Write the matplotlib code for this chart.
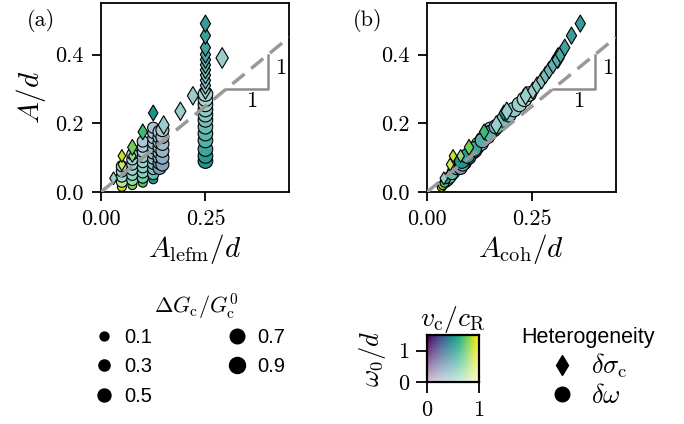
import numpy as np
import matplotlib
matplotlib.use('Agg')
import matplotlib.pyplot as plt
from matplotlib.lines import Line2D

plt.rcParams.update({
    'font.family': 'serif', 'font.serif': ['cmr10'], 'mathtext.fontset': 'cm',
    'axes.formatter.use_mathtext': True, 'font.size': 14,
    'axes.linewidth': 1.3,
    'xtick.major.width': 1.3, 'ytick.major.width': 1.3,
    'xtick.major.size': 6.5, 'ytick.major.size': 6.5,
    'xtick.major.pad': 6, 'ytick.major.pad': 6,
    'xtick.direction': 'out', 'ytick.direction': 'out',
    'xtick.labelsize': 16, 'ytick.labelsize': 16,
})

# ---------------- data: delta omega heterogeneity (circles) ----------------
circ_lefm = [0.05, 0.05, 0.05, 0.05, 0.05,
             0.075, 0.075, 0.075, 0.075, 0.075, 0.075, 0.075,
             0.10, 0.10, 0.10, 0.10, 0.10, 0.10, 0.10, 0.10, 0.10,
             0.125, 0.125, 0.125, 0.125, 0.125, 0.125, 0.125, 0.125, 0.125, 0.125, 0.125,
             0.14, 0.14, 0.14, 0.14, 0.14, 0.14, 0.14, 0.14,
             0.147, 0.147, 0.147, 0.147, 0.147, 0.147,
             0.25, 0.25, 0.25, 0.25, 0.25, 0.25, 0.25, 0.25, 0.25, 0.25, 0.25, 0.25]
circ_coh = [0.035, 0.045, 0.055, 0.062, 0.070,
            0.038, 0.050, 0.060, 0.070, 0.080, 0.090, 0.100,
            0.042, 0.055, 0.065, 0.075, 0.085, 0.095, 0.105, 0.115, 0.125,
            0.045, 0.060, 0.070, 0.080, 0.090, 0.100, 0.110, 0.120, 0.130, 0.140, 0.150,
            0.080, 0.090, 0.100, 0.110, 0.120, 0.130, 0.140, 0.150,
            0.085, 0.100, 0.115, 0.130, 0.145, 0.160,
            0.083, 0.096, 0.112, 0.132, 0.148, 0.165, 0.182, 0.195, 0.207, 0.220, 0.232, 0.243]
circ_A = [0.015, 0.030, 0.045, 0.060, 0.075,
          0.020, 0.035, 0.050, 0.065, 0.080, 0.095, 0.110,
          0.027, 0.042, 0.057, 0.072, 0.087, 0.102, 0.117, 0.132, 0.147,
          0.037, 0.052, 0.067, 0.082, 0.097, 0.112, 0.127, 0.142, 0.157, 0.172, 0.187,
          0.070, 0.085, 0.100, 0.115, 0.130, 0.145, 0.160, 0.175,
          0.080, 0.100, 0.120, 0.140, 0.160, 0.180,
          0.090, 0.105, 0.125, 0.150, 0.170, 0.190, 0.210, 0.225, 0.240, 0.255, 0.270, 0.285]
circ_dG = [0.1, 0.3, 0.3, 0.3, 0.3,
           0.1, 0.3, 0.3, 0.3, 0.3, 0.3, 0.3,
           0.1, 0.3, 0.3, 0.3, 0.3, 0.3, 0.3, 0.3, 0.3,
           0.1, 0.3, 0.3, 0.3, 0.3, 0.3, 0.3, 0.3, 0.3, 0.3, 0.3,
           0.5, 0.5, 0.5, 0.5, 0.5, 0.5, 0.5, 0.5,
           0.5, 0.5, 0.5, 0.5, 0.5, 0.5,
           0.7, 0.7, 0.7, 0.7, 0.7, 0.7, 0.7, 0.7, 0.7, 0.7, 0.7, 0.7]
circ_v = [0.92, 0.80, 0.60, 0.50, 0.40,
          0.80, 0.70, 0.60, 0.55, 0.50, 0.45, 0.40,
          0.72, 0.65, 0.60, 0.55, 0.50, 0.45, 0.42, 0.40, 0.38,
          0.55, 0.55, 0.50, 0.48, 0.45, 0.42, 0.40, 0.40, 0.38, 0.36, 0.35,
          0.35, 0.35, 0.35, 0.35, 0.35, 0.35, 0.35, 0.35,
          0.33, 0.33, 0.33, 0.33, 0.33, 0.33,
          0.52, 0.52, 0.52, 0.52, 0.52, 0.52, 0.52, 0.52, 0.52, 0.52, 0.52, 0.52]
circ_w = [1.5, 0.6, 0.4, 0.3, 0.3,
          1.5, 0.7, 0.5, 0.4, 0.4, 0.3, 0.3,
          1.5, 0.8, 0.6, 0.5, 0.4, 0.4, 0.3, 0.3, 0.3,
          1.5, 0.9, 0.7, 0.6, 0.5, 0.5, 0.4, 0.4, 0.3, 0.3, 0.3,
          0.8, 0.7, 0.6, 0.5, 0.5, 0.4, 0.4, 0.3,
          0.7, 0.6, 0.5, 0.4, 0.4, 0.3,
          1.5, 1.4, 1.2, 1.0, 0.9, 0.8, 0.7, 0.6, 0.5, 0.4, 0.3, 0.3]

# ---------------- data: delta sigma_c heterogeneity (diamonds) ----------------
dia_lefm = [0.05, 0.075, 0.05, 0.075, 0.10, 0.125,
            0.03, 0.15, 0.19, 0.22, 0.29,
            0.25, 0.25, 0.25, 0.25, 0.25, 0.25, 0.25, 0.25, 0.25, 0.25, 0.25]
dia_coh = [0.055, 0.080, 0.062, 0.100, 0.136, 0.183,
           0.040, 0.165, 0.190, 0.235, 0.312,
           0.252, 0.262, 0.273, 0.282, 0.291, 0.300, 0.310, 0.318, 0.328, 0.344, 0.365]
dia_A = [0.080, 0.105, 0.105, 0.130, 0.175, 0.230,
         0.040, 0.195, 0.235, 0.280, 0.390,
         0.295, 0.310, 0.325, 0.340, 0.355, 0.370, 0.385, 0.400, 0.420, 0.455, 0.490]
dia_dG = [0.1, 0.1, 0.1, 0.3, 0.3, 0.3,
          0.1, 0.5, 0.5, 0.5, 0.7,
          0.4, 0.4, 0.4, 0.4, 0.4, 0.4, 0.4, 0.4, 0.4, 0.4, 0.4]
dia_v = [0.90, 0.78, 0.92, 0.78, 0.68, 0.50,
         0.50, 0.50, 0.50, 0.50, 0.50,
         0.50, 0.50, 0.50, 0.50, 0.50, 0.50, 0.50, 0.50, 0.50, 0.50, 0.50]
dia_w = [1.0, 1.0, 1.5, 1.5, 1.5, 1.5,
         0.4, 0.4, 0.4, 0.4, 0.4,
         0.4, 0.5, 0.6, 0.7, 0.8, 0.9, 1.0, 1.1, 1.2, 1.25, 1.3]

legend_dG = [0.1, 0.3, 0.5, 0.7, 0.9]
xlim_max, ylim_max = 0.45, 0.55

viridis = plt.get_cmap('viridis')


def color2d(v, w):
    a = 0.25 + 0.75 * min(w / 1.5, 1.0)
    c = np.array(viridis(v)[:3])
    return tuple(a * c + (1 - a))


def size_of(dg):
    return 30 + 115 * dg


fig = plt.figure(figsize=(6.84, 4.24), dpi=100)
W, H = 684, 424
ax_a = fig.add_axes([101 / W, 1 - 192 / H, 188 / W, 189 / H])
ax_b = fig.add_axes([427 / W, 1 - 192 / H, 189 / W, 189 / H])

circ_col = [color2d(v, w) for v, w in zip(circ_v, circ_w)]
dia_col = [color2d(v, w) for v, w in zip(dia_v, dia_w)]
circ_s = [size_of(d) for d in circ_dG]
dia_s = [size_of(d) for d in dia_dG]

for ax, cx, dx, xl in [(ax_a, circ_lefm, dia_lefm, r'$A_\mathrm{lefm}/d$'),
                       (ax_b, circ_coh, dia_coh, r'$A_\mathrm{coh}/d$')]:
    ax.scatter(cx, circ_A, s=circ_s, c=circ_col, marker='o', edgecolors='k',
               linewidths=0.8, zorder=2)
    ax.scatter(dx, dia_A, s=dia_s, c=dia_col, marker='d', edgecolors='k',
               linewidths=0.8, zorder=2)
    ax.plot([0, xlim_max], [0, xlim_max], color='#999999', lw=2.5,
            dashes=(4.5, 2.5), zorder=3)
    ax.plot([0.3, 0.4, 0.4], [0.3, 0.3, 0.4], color='#8c8c8c', lw=1.8, zorder=3)
    ax.text(0.36, 0.265, '1', ha='center', va='center', fontsize=16)
    ax.text(0.43, 0.36, '1', ha='center', va='center', fontsize=16)
    ax.set_xlim(0, xlim_max)
    ax.set_ylim(0, ylim_max)
    ax.set_xticks([0.0, 0.25])
    ax.set_xticklabels(['0.00', '0.25'])
    ax.set_yticks([0.0, 0.2, 0.4])
    ax.set_yticklabels(['0.0', '0.2', '0.4'])
    ax.set_xlabel(xl, fontsize=21, labelpad=2)

ax_a.set_ylabel(r'$A/d$', fontsize=21, labelpad=5)
fig.text(41 / W, 1 - 20 / H, '(a)', ha='center', va='center', fontsize=16)
fig.text(368 / W, 1 - 20 / H, '(b)', ha='center', va='center', fontsize=16)

# ---------------- 2D colour key ----------------
ax_c = fig.add_axes([427 / W, 1 - 382 / H, 52 / W, 47 / H])
vv = np.linspace(0, 1, 20)
ww = np.linspace(0, 1.5, 20)
img = np.array([[color2d(v, w) for v in vv] for w in ww])
ax_c.imshow(img, origin='lower', extent=[0, 1, 0, 1.5], aspect='auto')
ax_c.set_xticks([0, 1])
ax_c.set_xticklabels(['0', '1'])
ax_c.set_yticks([0, 1])
ax_c.set_yticklabels(['0', '1'])
ax_c.tick_params(labelsize=16, length=8, pad=5)
for sp in ax_c.spines.values():
    sp.set_linewidth(1.6)
ax_c.set_title(r'$v_\mathrm{c}/c_\mathrm{R}$', fontsize=20, pad=1)
ax_c.set_ylabel(r'$\omega_0/d$', fontsize=19, labelpad=7)

# ---------------- size legend ----------------
fig.text(196 / W, 1 - 307 / H, r'$\Delta G_\mathrm{c}/G_\mathrm{c}^0$',
         ha='center', va='center', fontsize=16)
size_handles = [Line2D([], [], ls='none', marker='o', color='k',
                       markersize=np.sqrt(size_of(d))) for d in legend_dG]
leg1 = fig.legend(size_handles, [str(d) for d in legend_dG], ncol=2,
                  loc='center left', bbox_to_anchor=(94 / W, 1 - 367 / H),
                  frameon=False, prop={'family': 'Liberation Sans', 'size': 14.5},
                  handlelength=1.0, handletextpad=0.5, columnspacing=3.7,
                  labelspacing=0.52, borderpad=0, borderaxespad=0)

# ---------------- marker legend ----------------
fig.text(588 / W, 1 - 337 / H, 'Heterogeneity', ha='center', va='center',
         family='Liberation Sans', fontsize=15.5)
het_handles = [Line2D([], [], ls='none', marker='d', color='k', markersize=10.5),
               Line2D([], [], ls='none', marker='o', color='k', markersize=10.5)]
leg2 = fig.legend(het_handles, [r'$\delta\sigma_\mathrm{c}$', r'$\delta\omega$'],
                  loc='center left', bbox_to_anchor=(549 / W, 1 - 380 / H),
                  frameon=False,
                  prop={'size': 19}, handlelength=1.0, handletextpad=0.6,
                  labelspacing=0.15, borderpad=0, borderaxespad=0)

fig.savefig('out.png', dpi=100)
